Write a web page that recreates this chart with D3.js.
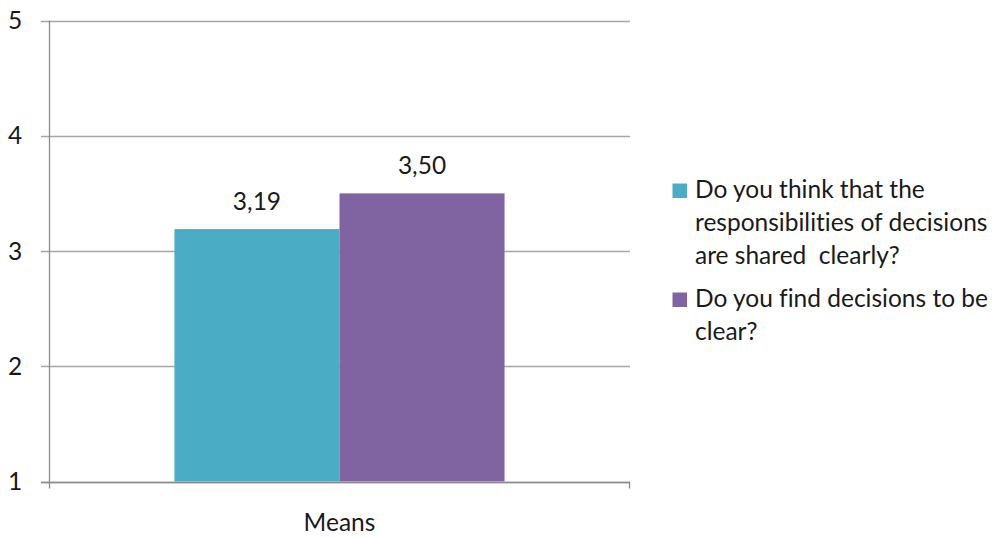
<!DOCTYPE html>
<html>
<head>
<meta charset="utf-8">
<script src="https://cdn.jsdelivr.net/npm/d3@7"></script>
<style>
  html, body { margin: 0; padding: 0; background: #fff; }
  svg { display: block; font-family: Lato, "Open Sans", sans-serif; font-variant-ligatures: none; }
</style>
</head>
<body>
<svg id="chart" width="994" height="538"></svg>
<script>
// Chart data
const categories = ["Means"];
const seriesNames = [
  "Do you think that the responsibilities of decisions are shared clearly?",
  "Do you find decisions to be clear?"
];
const seriesValues = [3.19, 3.50];
const seriesLabels = ["3,19", "3,50"];
const seriesColors = ["#4BACC6", "#8064A2"];
const yTicks = [1, 2, 3, 4, 5];
const legendLines = [
  ["Do you think that the", "responsibilities of decisions", "are shared  clearly?"],
  ["Do you find decisions to be", "clear?"]
];

const svg = d3.select("#chart");
const plot = { left: 49, right: 630, top: 20.5, bottom: 481.5 };
const fontSize = 24.5;

const y = d3.scaleLinear().domain([1, 5]).range([plot.bottom, plot.top]);
const x0 = d3.scaleBand().domain(categories).range([plot.left, plot.right]).paddingInner(0).paddingOuter(0.38);
const x1 = d3.scaleBand().domain(d3.range(seriesValues.length)).range([0, x0.bandwidth()]);

// horizontal gridlines
svg.append("g")
  .selectAll("line")
  .data(yTicks)
  .join("line")
  .attr("x1", plot.left - 8)
  .attr("x2", plot.right)
  .attr("y1", d => Math.round(y(d)) + 0.5)
  .attr("y2", d => Math.round(y(d)) + 0.5)
  .attr("stroke", "#a6a6a6")
  .attr("stroke-width", 1.3);

// y-axis tick labels
svg.append("g")
  .selectAll("text")
  .data(yTicks)
  .join("text")
  .attr("x", 15)
  .attr("y", d => y(d) + 8.5)
  .attr("text-anchor", "middle")
  .attr("font-size", fontSize)
  .attr("fill", "#1a1a1a")
  .text(d => d);

// bars
categories.forEach(cat => {
  const g = svg.append("g").attr("transform", `translate(${x0(cat)},0)`);
  g.selectAll("rect")
    .data(seriesValues)
    .join("rect")
    .attr("x", (d, i) => x1(i))
    .attr("width", x1.bandwidth())
    .attr("y", d => y(d))
    .attr("height", d => y(1) - y(d))
    .attr("fill", (d, i) => seriesColors[i]);
  g.selectAll("text")
    .data(seriesValues)
    .join("text")
    .attr("x", (d, i) => x1(i) + x1.bandwidth() / 2)
    .attr("y", d => y(d) - 19)
    .attr("text-anchor", "middle")
    .attr("font-size", fontSize)
    .attr("fill", "#1a1a1a")
    .text((d, i) => seriesLabels[i]);
});

// axes lines
svg.append("line")
  .attr("x1", plot.left + 0.5).attr("x2", plot.left + 0.5)
  .attr("y1", plot.top).attr("y2", plot.bottom + 7)
  .attr("stroke", "#8c8c8c").attr("stroke-width", 1.3);
svg.append("line")
  .attr("x1", plot.left - 8).attr("x2", plot.right)
  .attr("y1", Math.round(y(1)) + 0.5).attr("y2", Math.round(y(1)) + 0.5)
  .attr("stroke", "#8c8c8c").attr("stroke-width", 1.3);
svg.append("line")
  .attr("x1", plot.right - 0.5).attr("x2", plot.right - 0.5)
  .attr("y1", plot.bottom).attr("y2", plot.bottom + 7)
  .attr("stroke", "#8c8c8c").attr("stroke-width", 1.3);

// category label
svg.append("g")
  .selectAll("text")
  .data(categories)
  .join("text")
  .attr("x", d => x0(d) + x0.bandwidth() / 2)
  .attr("y", 531)
  .attr("text-anchor", "middle")
  .attr("font-size", fontSize)
  .attr("fill", "#1a1a1a")
  .text(d => d);

// legend
const legendTop = [198, 307];
const legend = svg.append("g");
legendLines.forEach((lines, i) => {
  legend.append("rect")
    .attr("x", 672.5)
    .attr("y", legendTop[i] - 14.5)
    .attr("width", 14.5)
    .attr("height", 14.5)
    .attr("fill", seriesColors[i]);
  legend.append("text")
    .attr("x", 695)
    .attr("y", legendTop[i])
    .attr("font-size", fontSize)
    .attr("fill", "#1a1a1a")
    .attr("xml:space", "preserve")
    .selectAll("tspan")
    .data(lines)
    .join("tspan")
    .attr("x", 695)
    .attr("dy", (d, j) => j === 0 ? 0 : 33)
    .text(d => d);
});
</script>
</body>
</html>
